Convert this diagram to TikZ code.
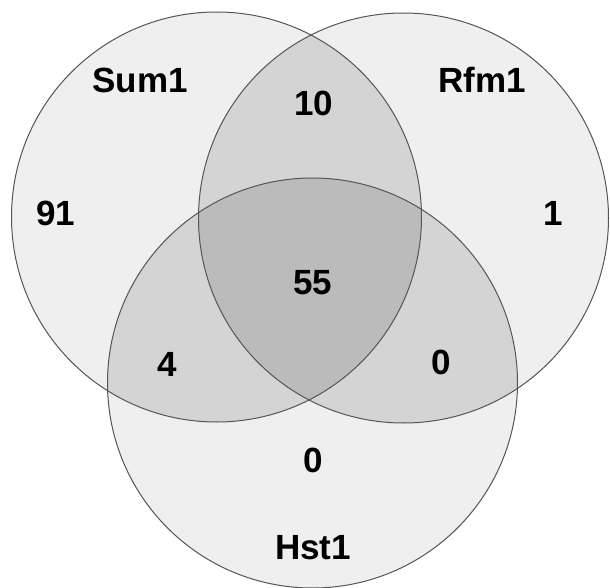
\documentclass[tikz,border=0pt]{standalone}
\usepackage{fontspec}
\setmainfont{Liberation Sans}
\definecolor{singlec}{HTML}{EFEFEF}
\definecolor{doublec}{HTML}{D4D4D4}
\definecolor{triplec}{HTML}{BBBBBB}
\definecolor{edgec}{HTML}{555555}
\begin{document}
\begin{tikzpicture}[x=1pt,y=-1pt,
  lbl/.style={font=\fontsize{35}{40}\selectfont\bfseries, text=black, inner sep=0pt},
  ring/.style={draw=edgec, line width=1pt}]
\useasboundingbox (0,0) rectangle (610,588);
\coordinate (A) at (216.5,217);
\coordinate (B) at (403.5,218);
\coordinate (C) at (312.5,383);
% single fills
\fill[singlec] (A) circle (205pt);
\fill[singlec] (B) circle (205pt);
\fill[singlec] (C) circle (205pt);
% double overlaps
\begin{scope}
  \clip (A) circle (205pt);
  \fill[doublec] (B) circle (205pt);
  \fill[doublec] (C) circle (205pt);
\end{scope}
\begin{scope}
  \clip (B) circle (205pt);
  \fill[doublec] (C) circle (205pt);
\end{scope}
% triple overlap
\begin{scope}
  \clip (A) circle (205pt);
  \clip (B) circle (205pt);
  \fill[triplec] (C) circle (205pt);
\end{scope}
% outlines
\draw[ring] (A) circle (205pt);
\draw[ring] (B) circle (205pt);
\draw[ring] (C) circle (205pt);
% labels
\node[lbl] (sum) at (140,80) {Sum1};
\node[lbl] (rfm) at (482,80) {Rfm1};
\node[lbl] (hst) at (313,548) {Hst1};
\node[lbl] (n91) at (56,213) {91};
\node[lbl] (n10) at (314,103) {10};
\node[lbl] (n1) at (553,213) {1};
\node[lbl] (n55) at (313,283) {55};
\node[lbl] (n4) at (167,364) {4};
\node[lbl] (n0a) at (441,362) {0};
\node[lbl] (n0b) at (313,460) {0};
\end{tikzpicture}
\end{document}
